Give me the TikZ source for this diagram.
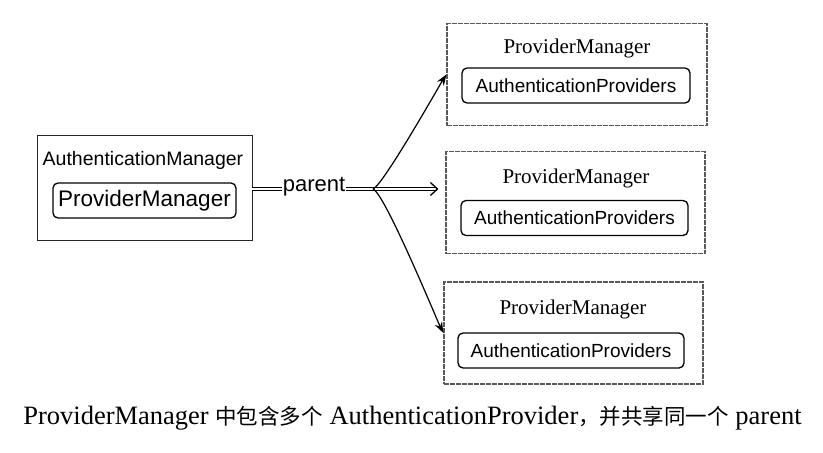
\documentclass[tikz,border=0pt]{standalone}
\usepackage{fontspec}
\setmainfont{Liberation Serif}
\newfontfamily\arialfont{Liberation Sans}
\newfontfamily\cjk{Noto Sans CJK SC}
\newcommand\cjktext[1]{{\cjk\fontsize{21.5}{28}\selectfont #1}}
\usetikzlibrary{positioning}
\usetikzlibrary{arrows.meta}
\tikzset{>={Stealth[length=11pt,width=8pt]}}

\begin{document}
\begin{tikzpicture}[x=1pt,y=-1pt]
    \tikzstyle{authbox} = [draw=black!85, line width=0.9pt, minimum width=215pt, minimum height=105pt, inner sep=0pt]
    \tikzstyle{outerbox} = [draw=black!65, dash pattern=on 5pt off 1pt, line width=1.2pt, minimum height=102pt, inner sep=0pt]
    \tikzstyle{innerbox} = [draw, rounded corners=5pt, line width=1.3pt, minimum height=35pt, inner sep=0pt, font=\arialfont\fontsize{19}{22}\selectfont]
    \tikzstyle{pmtitle} = [inner sep=0pt, font=\fontsize{21}{24}\selectfont]
    \tikzstyle{dline} = [double, double distance=2.5pt, line width=0.9pt]

    \useasboundingbox (0,0) rectangle (823,453);

    % AuthenticationManager
    \node[authbox] (authMgr) at (144.5,187.5) {};
    \node[inner sep=0pt, font=\arialfont\fontsize{19.5}{22}\selectfont] (authTitle) at (143,160) {AuthenticationManager};
    \node[innerbox, minimum width=183pt, font=\arialfont\fontsize{22.5}{26}\selectfont] (leftPM) at (144.5,200.5) {ProviderManager};

    % ProviderManagers
    \node[outerbox, minimum width=260pt] (pm1) at (577,74.5) {};
    \node[pmtitle] (pm1Title) at (577,48) {ProviderManager};
    \node[innerbox, minimum width=228pt] (pm1Prov) at (576,85.5) {AuthenticationProviders};

    \node[outerbox, minimum width=259pt] (pm2) at (575.5,202.5) {};
    \node[pmtitle] (pm2Title) at (576,178) {ProviderManager};
    \node[innerbox, minimum width=227pt] (pm2Prov) at (574.5,218) {AuthenticationProviders};

    \node[outerbox, minimum width=259pt] (pm3) at (573.5,333) {};
    \node[pmtitle] (pm3Title) at (573,309) {ProviderManager};
    \node[innerbox, minimum width=226pt] (pm3Prov) at (571,350.5) {AuthenticationProviders};

    % parent
    \coordinate (fork) at (373,189);
    \node[inner sep=1pt, font=\arialfont\fontsize{22}{25}\selectfont] (parentLbl) at (314,187) {parent};

    \draw[dline] (authMgr.east |- fork) -- (parentLbl.west |- fork);
    \draw[dline] (parentLbl.east |- fork) -- (fork);
    \draw[dline, -{Straight Barb[length=7pt,width=13pt,line width=1.3pt]}, shorten >=7pt] (fork) -- (fork -| pm2.west);
    \draw[->, line width=1.2pt] (fork) to[out=20, in=237, looseness=0.2] (pm1.west);
    \draw[->, line width=1.2pt] (fork) to[out=-20, in=117, looseness=0.2] (pm3.west);

    \node[inner sep=0pt, font=\fontsize{26.5}{30}\selectfont] (caption) at (412.5,418) {ProviderManager \cjktext{中包含多个} AuthenticationProvider\cjktext{，并共享同一个} parent};
\end{tikzpicture}
\end{document}
